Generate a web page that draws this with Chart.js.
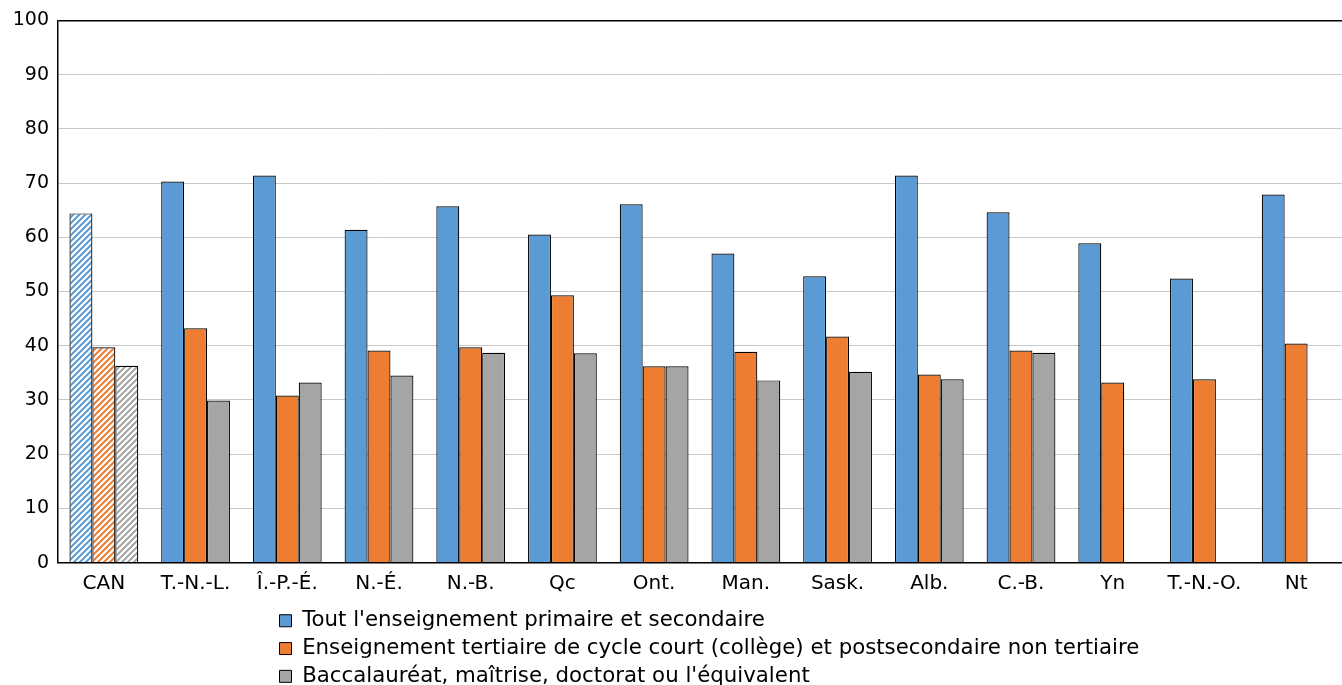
<!DOCTYPE html>
<html>
<head>
<meta charset="utf-8">
<script src="https://cdn.jsdelivr.net/npm/chart.js@4/dist/chart.umd.min.js"></script>
<style>
  html, body { margin: 0; padding: 0; background: #fff; }
  #wrap { width: 1342px; height: 685px; }
</style>
</head>
<body>
<div id="wrap"><canvas id="myChart" width="1342" height="685"></canvas></div>
<script>
const categories = ['CAN', 'T.-N.-L.', 'Î.-P.-É.', 'N.-É.', 'N.-B.', 'Qc', 'Ont.', 'Man.', 'Sask.', 'Alb.', 'C.-B.', 'Yn', 'T.-N.-O.', 'Nt'];
const seriesNames = [
  "Tout l'enseignement primaire et secondaire",
  "Enseignement tertiaire de cycle court (collège) et postsecondaire non tertiaire",
  "Baccalauréat, maîtrise, doctorat ou l'équivalent"
];
const primaireSecondaire = [64.4, 70.3, 71.4, 61.4, 65.7, 60.5, 66.1, 57.0, 52.8, 71.4, 64.6, 58.9, 52.4, 67.9];
const collegeCourt = [39.7, 43.2, 30.8, 39.1, 39.7, 49.3, 36.2, 38.9, 41.7, 34.7, 39.1, 33.2, 33.8, 40.4];
const universitaire = [36.3, 29.9, 33.2, 34.5, 38.7, 38.6, 36.2, 33.6, 35.2, 33.8, 38.7, null, null, null];
const yTicks = [0, 10, 20, 30, 40, 50, 60, 70, 80, 90, 100];

const colors = ['#5B9BD5', '#ED7D31', '#A5A5A5'];
const FONT = "'DejaVu Sans', Verdana, sans-serif";

// hatched fill for the Canada bars
function hatch(color) {
  const c = document.createElement('canvas');
  c.width = 6; c.height = 6;
  const g = c.getContext('2d');
  g.fillStyle = '#fff';
  g.fillRect(0, 0, 6, 6);
  g.strokeStyle = color;
  g.lineWidth = 2;
  g.beginPath();
  g.moveTo(-1, 7); g.lineTo(7, -1);
  g.moveTo(-4, 4); g.lineTo(4, -4);
  g.moveTo(2, 10); g.lineTo(10, 2);
  g.stroke();
  return g.createPattern(c, 'repeat');
}

function fills(i) {
  const pat = hatch(colors[i]);
  return categories.map((c, k) => k === 0 ? pat : colors[i]);
}

// legend lines all start at the same x, a bit lower
const legendShift = {
  id: 'legendShift',
  afterUpdate(chart) {
    chart.legend.left = 273;
    chart.legend.top += 12;
  }
};

const ctx = document.getElementById('myChart').getContext('2d');
new Chart(ctx, {
  type: 'bar',
  data: {
    labels: categories,
    datasets: [primaireSecondaire, collegeCourt, universitaire].map((d, i) => ({
      label: seriesNames[i],
      data: d,
      backgroundColor: fills(i),
      borderColor: '#000',
      borderWidth: 1.2,
      categoryPercentage: 0.75,
      barPercentage: 1
    }))
  },
  plugins: [legendShift],
  options: {
    responsive: false,
    animation: false,
    layout: { padding: { top: 18, right: 0, left: 0, bottom: 0 } },
    plugins: {
      tooltip: { enabled: false },
      legend: {
        position: 'bottom',
        align: 'start',
        labels: {
          color: '#000',
          font: { family: FONT, size: 21.3 },
          boxWidth: 12,
          boxHeight: 12,
          padding: 6.5,
          generateLabels: chart => seriesNames.map((n, i) => ({
            text: n,
            fillStyle: colors[i],
            strokeStyle: '#000',
            lineWidth: 1,
            datasetIndex: i,
            hidden: false
          }))
        }
      }
    },
    scales: {
      x: {
        afterFit(scale) { scale.height -= 13; },
        grid: { display: false, drawTicks: false },
        border: { color: '#000', width: 1.5 },
        ticks: { color: '#000', font: { family: FONT, size: 20 }, padding: 9 }
      },
      y: {
        min: 0,
        max: 100,
        afterFit(scale) { scale.width = 58; },
        afterBuildTicks(scale) { scale.ticks = yTicks.map(v => ({ value: v })); },
        grid: {
          color: c => c.tick && c.tick.value === 100 ? '#000' : '#c8c8c8',
          lineWidth: c => c.tick && c.tick.value === 100 ? 1.5 : 1,
          drawTicks: false
        },
        border: { color: '#000', width: 1.5 },
        ticks: { color: '#000', font: { family: FONT, size: 19 }, padding: 9 }
      }
    }
  }
});
</script>
</body>
</html>
